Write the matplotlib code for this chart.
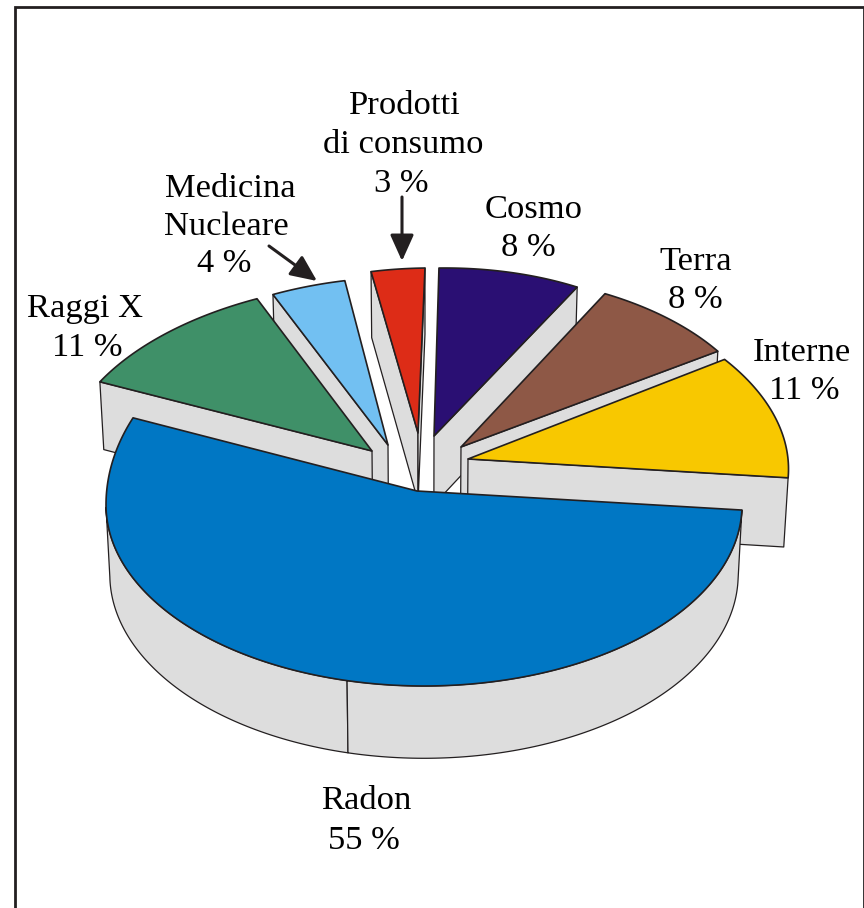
import numpy as np
import matplotlib
matplotlib.use("Agg")
import matplotlib.pyplot as plt
from matplotlib.patches import Polygon

# ---- data (clockwise from the right end of the Radon slice)
categories = ["Radon", "Raggi X", "Medicina\nNucleare", "Prodotti\ndi consumo", "Cosmo", "Terra", "Interne"]
values = [55, 11, 4, 3, 8, 8, 11]
colors = ["#0077c4", "#3f9068", "#72c0f2", "#dd2c17", "#2a0f73", "#8e5846", "#f8c800"]

# ---- style / layout (pixel space)
W, H = 864, 908
START = 354.0
INK = "#231f20"
WALL = "#dddddd"
VX = 424.0
# apex x, apex y, arc-centre x, arc-centre y, rx, ry top, ry bottom, shear, angular stretch, phase
geom = {
    "Radon": (417, 491, 424, 505, 318, 216, 181, 0, 202.2 / 198, 2.3),
    "Raggi X": (372, 451, 372, 451, 309, 170, 170, 25, 1, 0),
    "Medicina\nNucleare": (388, 445, 388, 445, 297, 168, 168, 19, 1, 0),
    "Prodotti\ndi consumo": (418, 433, 418, 433, 287, 165, 165, 13, 1, 0),
    "Cosmo": (434, 436, 434, 436, 288, 168, 168, 11, 1, 0),
    "Terra": (461, 447, 461, 447, 307, 173, 173, 2, 1, 0),
    "Interne": (468, 459, 468, 459, 320, 180, 180, -18, 1, 0),
}
draw_order = ["Prodotti\ndi consumo", "Cosmo", "Medicina\nNucleare", "Terra", "Raggi X", "Interne", "Radon"]
SEAM = 256.0
FS = 24.8
label_lines = {
    "Radon": [(366, 809), (364, 849)],
    "Raggi X": [(85, 317), (87, 356)],
    "Medicina\nNucleare": [(230, 197), (226, 235), (224, 272)],
    "Prodotti\ndi consumo": [(405, 114), (403, 153), (401, 192)],
    "Cosmo": [(534, 218), (528, 256)],
    "Terra": [(696, 270), (695, 308)],
    "Interne": [(802, 361), (804, 399)],
}
arrows = [((402, 197), (402, 261)), ((269, 246), (317, 281))]

plt.rcParams["font.family"] = ["Liberation Serif", "DejaVu Serif"]
fig = plt.figure(figsize=(W / 100, H / 100), dpi=100)
ax = fig.add_axes([0, 0, 1, 1])
ax.set_xlim(0, W)
ax.set_ylim(H, 0)
ax.axis("off")


def arc_pts(g, t):
    _, _, cx, cy, rx, ryu, ryd, s, _, _ = g
    t = np.radians(np.atleast_1d(t))
    sn, cs = np.sin(t), np.cos(t)
    ry = np.where(sn >= 0, ryu, ryd)
    return np.column_stack([cx + rx * cs + s * sn, cy - ry * sn])


def drop(p):
    p = np.atleast_2d(np.asarray(p, float))
    return np.column_stack([p[:, 0] - 0.012 * (p[:, 0] - VX), p[:, 1] + 62 + 0.015 * p[:, 1]])


def cross(a, b):
    return a[0] * b[1] - a[1] * b[0]


spans = {}
t = START
for c, v in zip(categories, values):
    spans[c] = (t, t - v * 3.6)
    t -= v * 3.6

for c in draw_order:
    g = geom[c]
    hi, lo = spans[c]
    m = (hi + lo) / 2
    ts = np.linspace(m + g[9] + (hi - m) * g[8], m + g[9] + (lo - m) * g[8], 240)
    apex = np.array(g[:2], float)
    arc = arc_pts(g, ts)
    mid = arc[len(arc) // 2] - apex
    # radial side walls
    for p in (arc[0], arc[-1]):
        e = p - apex
        dn = drop(p)[0] - p
        if cross(e, dn) * cross(e, mid) < 0:
            poly = np.vstack([apex, p, drop(p), drop(apex)])
            ax.add_patch(Polygon(poly, closed=True, fc=WALL, ec=INK, lw=0.9, zorder=1, joinstyle="round"))
    # outer curved wall (only the big front slice shows one)
    if (hi - lo) > 180:
        tm = np.mod(ts, 360)
        tv = np.sort(tm[tm > 180])
        for tg in (np.r_[tv[tv < SEAM], SEAM], np.r_[SEAM, tv[tv > SEAM]]):
            pts = arc_pts(g, tg)
            poly = np.vstack([pts, drop(pts)[::-1]])
            ax.add_patch(Polygon(poly, closed=True, fc=WALL, ec=INK, lw=0.9, zorder=1, joinstyle="round"))
    # top face
    ax.add_patch(Polygon(np.vstack([apex, arc]), closed=True, fc=colors[categories.index(c)], ec=INK,
                         lw=1.2, zorder=1, joinstyle="round"))

# labels
for c, v in zip(categories, values):
    lines = c.split("\n") + [f"{v} %"]
    for s, (x, y) in zip(lines, label_lines[c]):
        ax.text(x, y, s, ha="center", va="baseline", fontsize=FS, color="black", zorder=3)

# arrows
for (a, b) in arrows:
    ax.annotate("", xy=b, xytext=a,
                arrowprops=dict(arrowstyle="-|>,head_length=0.8,head_width=0.36", mutation_scale=20,
                                lw=2.2, color=INK, shrinkA=0, shrinkB=0), zorder=3)

# frame
ax.plot([15.3, 15.3, 863.5, 863.5], [H, 7.3, 7.3, H], color=INK, lw=2.0, solid_joinstyle="miter", zorder=4)

fig.savefig("out.png", dpi=100)
